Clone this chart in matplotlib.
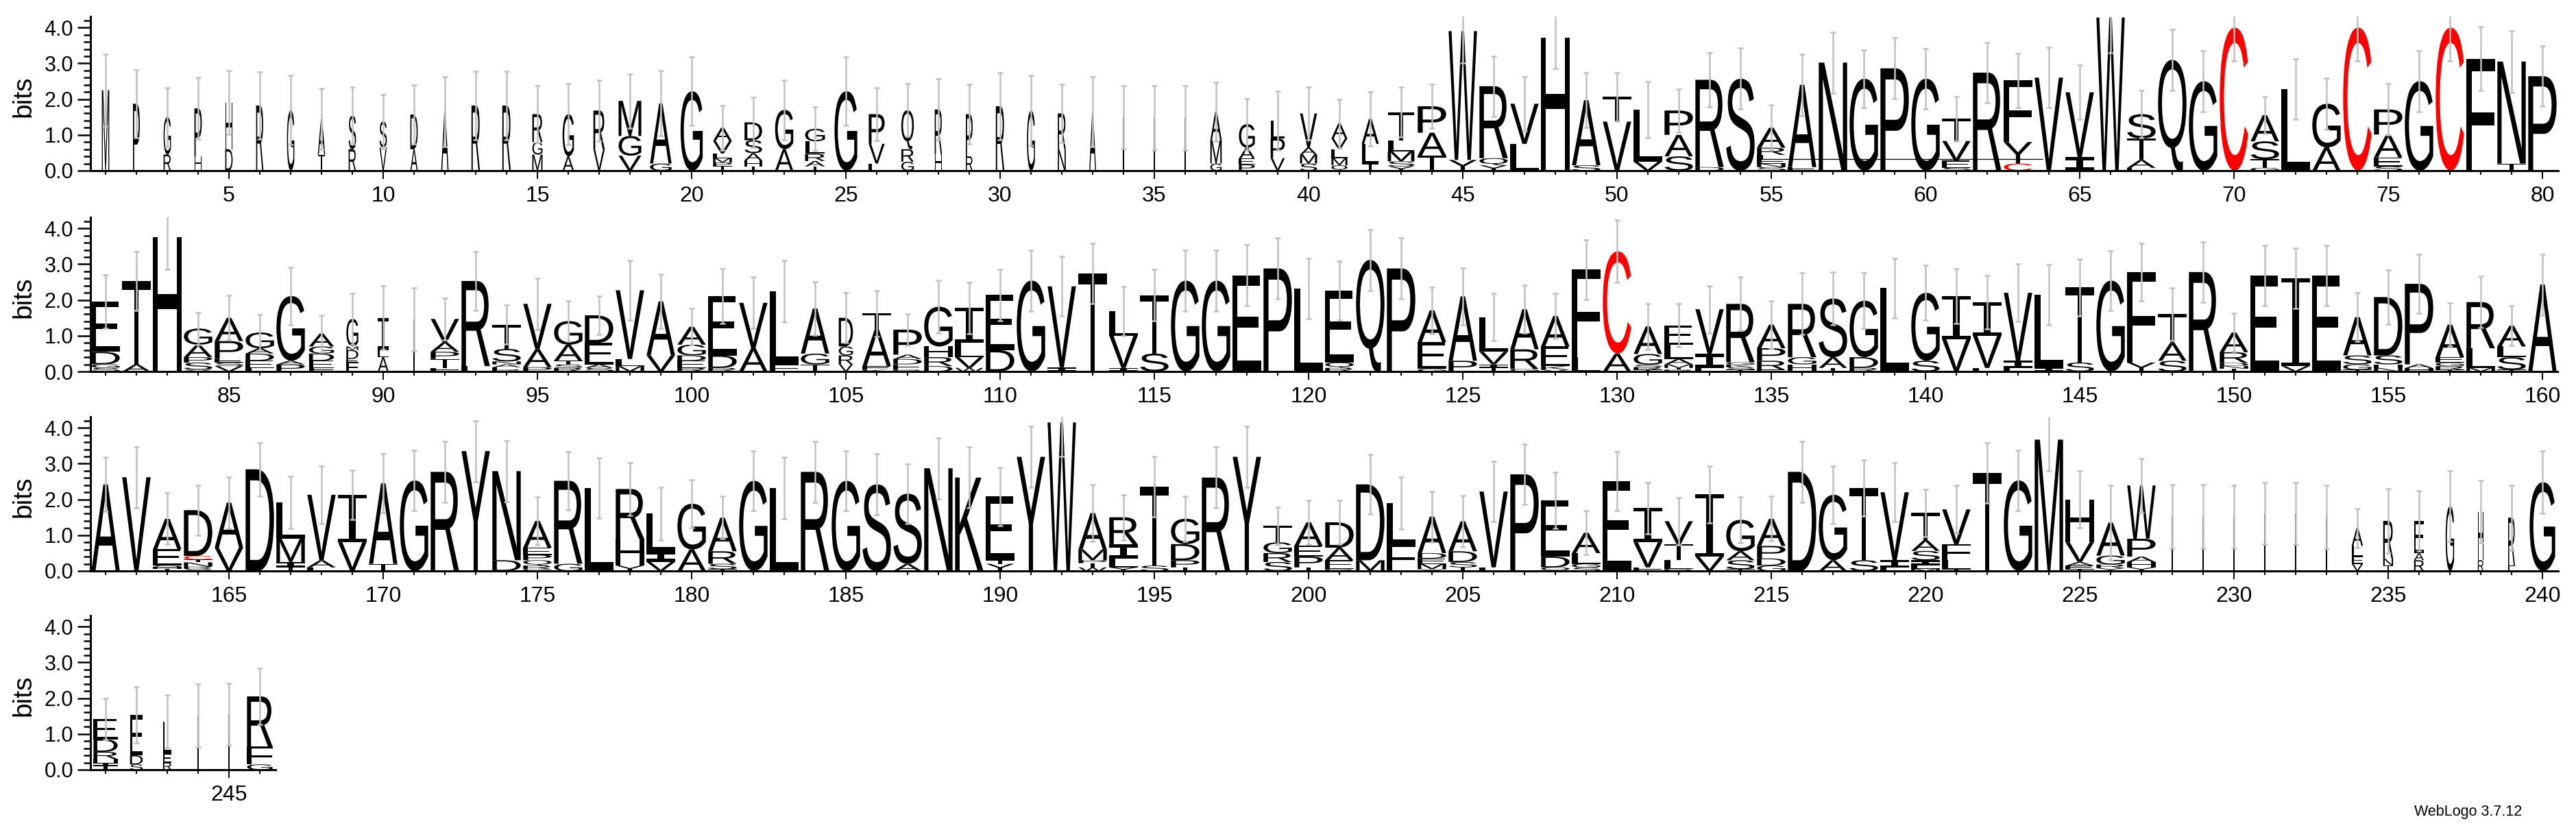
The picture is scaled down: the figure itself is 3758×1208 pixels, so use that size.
import matplotlib
matplotlib.use("Agg")
import matplotlib.pyplot as plt
from matplotlib.font_manager import FontProperties
from matplotlib.patches import PathPatch
from matplotlib.path import Path
from matplotlib.textpath import TextPath
from matplotlib.transforms import Affine2D

# each stack: letters from bottom to top, letter followed by its height in bits
row1 = [
    "M2.25", "P1.87", "R.45 G1.05", "H.4 P1.34", "D.6 H1.3", "R1.82", "G1.69", "T.45 A1.0", "R.6 S.94", "V.65 S.72",
    "A.6 D.97", "A1.65", "R1.82", "R1.82", "M.45 G.35 R.78", "A.4 G1.18", "V.6 R1.08", "V.42 G.55 M.98", "G.2 A1.68", "G2.22",
    "T.13 P.1 M.12 L.13 V.35 A.37", "T.12 H.17 A.2 S.36 D.5", "A.6 G1.1", "T.12 A.15 R.2 L.35 G.35", "G2.22",
    "L.2 V.55 P.83", "G.25 R.35 Q1.09", "H.45 R1.26", "R.4 P1.18", "R1.8",
    "G1.68", "N.6 R1.0", "A1.65", "I1.5", "I1.48", "I1.48", "G.2 M.65 A.8", "P.17 E.17 A.3 G.66", "V.35 P.55 L.5", "S.2 M.25 A.2 V.95",
    "Q.15 M.2 L.25 V.3 A.42", "T.2 L.55 A.7", "Y.12 S.14 M.28 L.3 T.79", "T.42 A.64 P.74", "Y.3 W3.6", "Y.15 Q.2 R2.01", "L.75 V1.12", "H3.72", "S.15 A1.82", "V1.37 T.69",
    "V.25 L1.46", "S.4 A.6 P.68", "D.1 R2.44", "S2.57", "S.1 N.1 E.12 L.12 R.2 A.56", "E.1 A2.3", "N3.02", "G2.57", "P2.86", "G2.57",
    "S.08 E.2 V.55 T.62", "R2.74", "C.2 Y.6 F1.72", "V2.6", "I.38 V1.81", "W4.28", "E.08 A.22 T.6 S.68", "Q3.1", "G2.5", "C4.0",
    "G.08 T.24 S.5 A.73", "L2.28", "A.65 G1.22", "C4.0", "S.12 E.25 A.64 P.7", "G2.5", "C4.0", "F3.13", "T.2 N2.85", "P2.64",
]
err1 = [1.0, .95, .82, .86, .89, .94, .97, .85, .8, .76, .83, .98, .95, .95, .8, .86, .85, .76, .91, .96,
        .62, .7, .83, .62, .96, .73, .74, .85, .83, .94, .98, .82, .98, .88, .9, .9, .82, .72, .82, .73,
        .68, .76, .7, .62, .9, .84, .75, .86, .77, .68, .79, .6, .75, .85, .63, .86, .85, .8, .85, .84,
        .62, .84, .76, .84, .76, .98, .66, .85, .85, .94, .52, .85, .72, .94, .72, .85, .94, .89, .86, .84]

row2 = [
    "S.1 G.1 D.35 E1.4", "A.2 T2.33", "H3.76", "V.05 S.2 P.15 A.35 G.45", "V.15 S.1 E.1 P.5 A.65", "L.1 E.2 D.2 A.15 G.44", "P.2 A.1 G1.81", "F.1 E.2 D.2 G.2 A.36", "F.25 E.1 D.25 M.1 G.77", "A.4 L.2 I.9",
    "I1.45", "F.1 T.25 P.2 A.27 V.65", "L.15 R2.38", "R.06 E.06 A.08 N.08 S.35 T.68", "P.12 A.5 V1.27", "R.1 S.1 T.1 A.45 G.66", "S.1 A.1 E.6 D.77", "M.15 L.2 V1.92", "V.45 A1.51", "R.1 E.2 D.15 G.3 A.5",
    "R.1 D.35 E1.66", "A.65 V1.27", "F.2 L2.04", "T.2 G.3 A1.26", "V.2 R.25 G.25 D.8", "K.05 E.1 A1.02 T.45", "R.05 E.15 D.15 A.12 P.7", "D.15 R.25 H.3 G1.11", "W.1 V.3 L.4 I.98", "D.6 E1.54",
    "G2.54", "I.12 V2.26", "T2.74", "I.1 V.9 L.68", "S.5 T1.63", "G2.54", "G2.54", "E2.69", "P2.88", "L2.32",
    "R.1 Q.15 E2.01", "Q3.12", "P2.88", "G.07 E.75 A.89", "P.3 A1.8", "T.1 I.1 V.35 L.97", "G.07 R.55 A1.12", "V.05 K.1 E.55 A.85", "L.4 F2.45", "A.5 C2.86",
    "T.05 R.07 S.07 G.3 A.77", "R.05 T.05 M.1 A.15 L.4 E.54", "L.1 I.4 V1.24", "T.05 S.07 K.07 G.07 R1.63", "E.05 R.25 P.35 A.66", "H.2 G.2 R1.49", "T.1 A.3 S1.64", "R.1 D.3 G1.58", "L2.33", "S.3 G1.9",
    "V.9 I1.21", "L.1 V.9 I.93", "L.1 I.2 V1.9", "I.1 L2.04", "S.25 T2.1", "G2.54", "Y.25 F2.53", "S.3 A.5 T.8", "R2.78", "T.08 N.08 D.08 R.3 A.55",
    "E2.68", "V.15 I2.45", "E2.68", "T.05 G.15 S.25 A1.07", "N.1 H.1 S.25 D1.63", "H.1 A.1 P2.25", "T.05 R.1 G.1 E.15 A.91", "M.1 L.55 R1.29", "T.05 S.35 L.3 A.58", "A2.43",
]
err2 = [.75, .82, .91, .45, .62, .5, .81, .52, .72, .89, .88, .58, .82, .54, .72, .57, .53, .83, .76, .51,
        .76, .72, .86, .75, .7, .65, .44, .74, .72, .72, .85, .83, .85, .69, .72, .85, .85, .85, .85, .85,
        .82, .85, .85, .65, .8, .66, .67, .64, .83, .87, .64, .6, .66, .75, .67, .86, .73, .77, .84, .77,
        .76, .75, .81, .84, .8, .84, .81, .73, .84, .53, .84, .84, .84, .68, .75, .83, .6, .72, .56, .85]

row3 = [
    "A2.42", "V2.62", "T.06 H.05 S.05 E.45 A.85", "S.06 R.06 N.12 T.08 C.1 D1.28", "V.65 A1.26", "D2.84", "T.1 I.15 M.65 L1.01", "L.1 A.2 V1.83", "V.8 I1.33", "T.2 A2.25",
    "G2.53", "R2.77", "Y3.35", "D.3 N2.49", "G.05 R.1 Q.15 P.15 E.2 A.75", "G.2 R2.32", "L2.32", "Y.15 H.75 R1.39", "V.25 I.3 L1.05", "A.6 G1.28",
    "T.05 S.15 R.35 A.94", "G2.52", "L2.32", "R2.77", "G2.52", "S2.42", "A.2 S1.96", "N2.87", "K2.61", "Y.2 T.1 E1.78",
    "Y3.19", "W4.15", "W.1 T.12 P.08 M.3 A1.02", "Y.1 L.25 I.4 R.75", "S.15 T2.2", "T.1 P.2 D.45 G.71", "R2.61", "Y3.19", "S.25 R.25 G.3 T.46", "T.1 P.3 E.3 A.66",
    "R.05 E.25 A.35 D.71", "M.3 D2.12", "F.75 L1.15", "Y.05 M.15 E.15 D.15 A1.02", "T.1 S.15 D.3 A.84", "L.1 V2.12", "P2.7", "Q.1 D.3 E1.57", "S.1 G.1 L.3 A.57", "E2.51",
    "F.1 V.7 I.96", "R.05 L.25 T.45 V.64", "V.4 I1.74", "T.05 S.25 A.25 G.88", "G.15 D.2 P.35 A.76", "D2.77", "A.3 G1.83", "S.3 T2.02", "L.1 I.2 V1.9", "M.06 L.1 I.14 S.26 A.3 T.76",
    "T.05 L.25 F.45 V.97", "T2.74", "G2.53", "M3.67", "T.05 E.1 A.1 V.55 H1.2", "Y.08 R.1 G.25 A.92", "Y.1 H.15 A.15 P.5 W1.49", "I1.52", "I1.52", "I1.52",
    "I1.61", "I1.61", "I1.5", "V.2 E.2 L.3 A.5", "T.15 N.2 R1.05", "R.3 A.2 E.9", "G1.81", "R.3 H1.35", "E.15 R1.34", "G2.48",
]
err3 = [.76, .85, .72, .7, .72, .75, .73, .81, .69, .83, .84, .85, .85, .85, .67, .82, .85, .74, .74, .67,
        .59, .83, .86, .85, .83, .85, .83, .85, .85, .81, .85, .96, .8, .63, .84, .63, .85, .86, .53, .62,
        .61, .83, .73, .71, .72, .84, .85, .79, .61, .83, .72, .66, .8, .64, .62, .86, .81, .79, .82, .66,
        .67, .85, .85, .88, .8, 1.05, .76, .89, .89, .88, .87, .87, .89, .55, .9, .85, .98, .87, .91, .87]

row4 = ["T.1 I.1 H.1 R.2 D.35 E.57", "S.15 D.25 E1.13", "R.2 E.25 L.9", "I1.52", "I1.55", "G.15 F.5 R1.4"]
err4 = [.58, .78, .73, .88, .86, .79]

# stack width as fraction of a full column (gappy columns are narrower)
narrow = {1: .26, 2: .24, 3: .26, 4: .26, 5: .26, 6: .26, 7: .26, 8: .26, 9: .26, 10: .26, 11: .26, 12: .26,
          13: .3, 14: .3, 15: .36, 16: .4, 17: .4, 18: .8, 19: .76, 20: .78, 21: .66, 22: .62, 23: .64,
          24: .7, 25: .8, 26: .56, 27: .44, 28: .26, 29: .24, 30: .3, 31: .28, 32: .28, 33: .24,
          34: .05, 35: .05, 36: .05, 37: .4, 38: .56, 39: .5, 40: .6, 41: .56, 42: .6, 43: .94,
          88: .88, 89: .42, 90: .38, 91: .06, 105: .5,
          228: .05, 229: .05, 230: .05, 231: .05, 232: .05, 233: .05, 234: .4, 235: .35, 236: .35,
          237: .3, 238: .2, 239: .24, 240: .9, 241: .85, 242: .45, 243: .3, 244: .05, 245: .05, 246: .9}

# stray stretched glyph drawn as a thin rule in row 1 (from, to, height in bits)
stray_rule = (54.6, 63.8, 0.33)

W, H = 3758, 1208
plt.rcParams['font.family'] = ['Liberation Sans', 'DejaVu Sans']
FONT = FontProperties(family='Liberation Sans')
cache = {}


def glyph(ch):
    if ch not in cache:
        p = TextPath((0, 0), ch, size=1, prop=FONT)
        cache[ch] = (p, p.get_extents())
    return cache[ch]


def i_beam(t, s):
    # serifed capital I in a unit box, bars of relative thickness t, half stem width s
    v = [(0, 0), (1, 0), (1, t), (.5 + s, t), (.5 + s, 1 - t), (1, 1 - t), (1, 1), (0, 1),
         (0, 1 - t), (.5 - s, 1 - t), (.5 - s, t), (0, t), (0, 0)]
    return Path(v, closed=True)


def parse(stack):
    return [(tok[0], float(tok[1:])) for tok in stack.split()]


fig = plt.figure(figsize=(W / 100, H / 100), dpi=100)

rows = [(1, row1, err1, 249), (81, row2, err2, 542), (161, row3, err3, 833), (241, row4, err4, 1123)]
for start, stacks, errs, base in rows:
    n = len(stacks)
    ax = fig.add_axes([131.5 / W, 1 - base / H, n * 45 / W, 225.5 / H])
    xs = list(range(start, start + n))
    tops = []
    for x, st in zip(xs, stacks):
        w = 0.92 * narrow.get(x, 1.0)
        y = 0.0
        for ch, h in parse(st):
            if ch == 'I':
                # very thin columns collapse to a plain bar
                p = i_beam(min(0.1 / h, 0.3), 0.5 if w < 0.1 else 0.11)
                t = Affine2D().scale(w, h).translate(x - w / 2, y)
            else:
                p, bb = glyph(ch)
                t = Affine2D().translate(-bb.x0, -bb.y0).scale(w / bb.width, h / bb.height).translate(x - w / 2, y)
            ax.add_patch(PathPatch(t.transform_path(p), fc='red' if ch == 'C' else 'black', ec='none', lw=0))
            y += h
        tops.append(y)
    ax.errorbar(xs, tops, yerr=errs, fmt='none', ecolor='#c0c0c0', elinewidth=1.8,
                capsize=3, capthick=1.8, zorder=5)
    if start == 1:
        ax.hlines(stray_rule[2], stray_rule[0], stray_rule[1], color='black', lw=0.9, zorder=4)

    ax.set_xlim(start - 0.5, start + n - 0.5)
    ax.set_ylim(0, 4.32)
    ax.set_xticks([x for x in xs if x % 5 == 0])
    ax.set_xticks(xs, minor=True)
    ax.set_yticks([0, 1, 2, 3, 4])
    ax.set_yticklabels(['0.0', '1.0', '2.0', '3.0', '4.0'])
    ax.set_yticks([i / 5 for i in range(22)], minor=True)
    ax.tick_params(axis='x', which='major', length=8.6, width=1.4, labelsize=23, pad=7)
    ax.tick_params(axis='x', which='minor', length=4.3, width=1.4)
    ax.tick_params(axis='y', which='major', length=14, width=1.8, labelsize=22, pad=3.5)
    ax.tick_params(axis='y', which='minor', length=7, width=1.8)
    for s in ['top', 'right']:
        ax.spines[s].set_visible(False)
    for s in ['left', 'bottom']:
        ax.spines[s].set_linewidth(2.2)
    fig.text(34 / W, 1 - (base - 108) / H, 'bits', rotation=90, ha='center', va='center', fontsize=28)

fig.text(3679 / W, 1 - 1190 / H, 'WebLogo 3.7.12', ha='right', va='baseline', fontsize=15.5)

fig.savefig('out.png', dpi=100)
